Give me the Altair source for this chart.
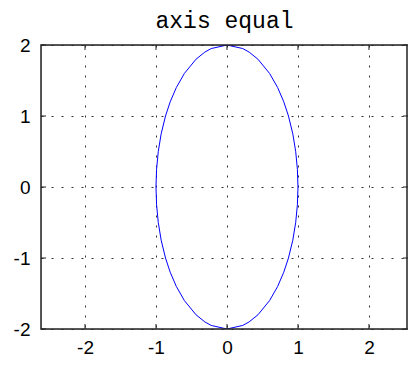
import altair as alt
import pandas as pd

# Ellipse points (x, y), traced counter-clockwise
ell_x = [1.0, 0.992, 0.968, 0.927, 0.866, 0.8, 0.714, 0.6, 0.436, 0.312, 0.222, 0.0,
         -0.222, -0.312, -0.436, -0.6, -0.714, -0.8, -0.866, -0.927, -0.968, -0.992, -1.0,
         -0.992, -0.968, -0.927, -0.866, -0.8, -0.714, -0.6, -0.436, -0.312, -0.222, 0.0,
         0.222, 0.312, 0.436, 0.6, 0.714, 0.8, 0.866, 0.927, 0.968, 0.992, 1.0]
ell_y = [0.0, 0.25, 0.5, 0.75, 1.0, 1.2, 1.4, 1.6, 1.8, 1.9, 1.95, 2.0,
         1.95, 1.9, 1.8, 1.6, 1.4, 1.2, 1.0, 0.75, 0.5, 0.25, 0.0,
         -0.25, -0.5, -0.75, -1.0, -1.2, -1.4, -1.6, -1.8, -1.9, -1.95, -2.0,
         -1.95, -1.9, -1.8, -1.6, -1.4, -1.2, -1.0, -0.75, -0.5, -0.25, 0.0]

x_ticks = [-2, -1, 0, 1, 2]
y_ticks = [-2, -1, 0, 1, 2]
x_domain = [-2.62, 2.55]
y_domain = [-2, 2]

W, H = 367, 284

df = pd.DataFrame({"x": ell_x, "y": ell_y, "i": list(range(len(ell_x)))})
xt = pd.DataFrame({"v": x_ticks})
yt = pd.DataFrame({"v": y_ticks})

xs = alt.Scale(domain=x_domain, nice=False, zero=False)
ys = alt.Scale(domain=y_domain, nice=False, zero=False)

lab = dict(labelFont="Liberation Sans", labelFontSize=19,
           labelColor="black", labelExpr="toString(datum.value)",
           ticks=False, domain=False, grid=True, gridDash=[2, 8],
           gridColor="#333333", gridWidth=1, gridOpacity=1, title=None)

line = alt.Chart(df).mark_line(color="#0000ff", strokeWidth=1, clip=True).encode(
    x=alt.X("x:Q", scale=xs, axis=alt.Axis(values=x_ticks, labelPadding=9, **lab)),
    y=alt.Y("y:Q", scale=ys, axis=alt.Axis(values=y_ticks, labelPadding=11, **lab)),
    order="i:O",
)

tick_color = "#222222"
xb = alt.Chart(xt).mark_rule(color=tick_color, strokeWidth=1).encode(
    x=alt.X("v:Q", scale=xs), y=alt.value(H), y2=alt.value(H - 5))
xtop = alt.Chart(xt).mark_rule(color=tick_color, strokeWidth=1).encode(
    x=alt.X("v:Q", scale=xs), y=alt.value(0), y2=alt.value(5))
yl = alt.Chart(yt).mark_rule(color=tick_color, strokeWidth=1).encode(
    y=alt.Y("v:Q", scale=ys), x=alt.value(0), x2=alt.value(5))
yr = alt.Chart(yt).mark_rule(color=tick_color, strokeWidth=1).encode(
    y=alt.Y("v:Q", scale=ys), x=alt.value(W), x2=alt.value(W - 5))

frame = alt.Chart(pd.DataFrame({"a": [0]})).mark_rect(
    fill=None, stroke="#222222", strokeWidth=1.5
).encode(x=alt.value(0), x2=alt.value(W - 1), y=alt.value(0), y2=alt.value(H))

chart = alt.layer(line, xb, xtop, yl, yr, frame).properties(
    width=W, height=H,
    title=alt.TitleParams("axis equal", font="Liberation Mono", fontSize=23,
                          fontWeight="normal", color="black", anchor="middle", offset=3),
    autosize=alt.AutoSizeParams(type="none"),
    padding={"left": 33, "top": 37, "right": 0, "bottom": 28},
).configure_view(stroke=None).configure(background="white")

chart.save("out.html", embed_options={"renderer": "svg", "actions": False})
